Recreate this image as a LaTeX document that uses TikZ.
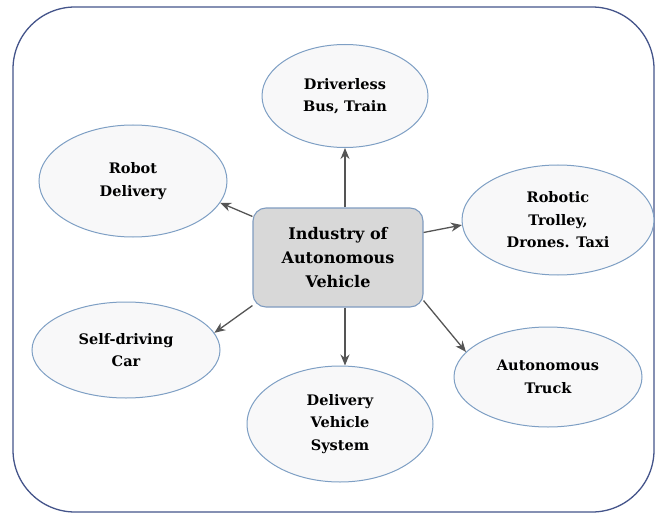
\documentclass[tikz,border=0pt]{standalone}
\usepackage{fontspec}
\setmainfont{DejaVu Serif}
\usetikzlibrary{shapes.geometric,arrows.meta}
\definecolor{framecol}{HTML}{44548A}
\definecolor{ellline}{HTML}{7E9FC4}
\definecolor{ellfill}{HTML}{F8F8F9}
\definecolor{boxfill}{HTML}{D8D8D8}
\definecolor{boxline}{HTML}{7F9CC0}
\definecolor{arrowcol}{HTML}{555555}
\begin{document}
\begin{tikzpicture}[x=1pt,y=-1pt,
  topic/.style={ellipse,draw=ellline,fill=ellfill,line width=1pt,
    inner sep=0pt,align=center,
    font=\bfseries\fontsize{14.5}{22.5}\selectfont},
  hub/.style={rectangle,rounded corners=13pt,draw=boxline,fill=boxfill,
    line width=1.1pt,minimum width=170pt,minimum height=99pt,align=center,
    font=\bfseries\fontsize{16}{24}\selectfont},
  link/.style={draw=arrowcol,line width=1.3pt,
    -{Stealth[length=11pt,width=9pt]}}]
\useasboundingbox (0,0) rectangle (655,513);
% outer frame
\draw[framecol,line width=1.3pt,rounded corners=62pt] (13,7) rectangle (654,512);

% central node
\node[hub] (hub) at (338,257.5) {Industry of\\Autonomous\\Vehicle};

% surrounding topics
\node[topic,minimum width=166pt,minimum height=103pt] (bus) at (345,96) {Driverless\\Bus, Train};
\node[topic,minimum width=188pt,minimum height=112pt] (robot) at (133,181) {Robot\\Delivery};
\node[topic,minimum width=192pt,minimum height=110pt] (trolley) at (558,220) {Robotic\\Trolley,\\Drones. Taxi};
\node[topic,minimum width=188pt,minimum height=96pt] (car) at (126,350) {Self-driving\\Car};
\node[topic,minimum width=186pt,minimum height=116pt] (dvs) at (340,424) {Delivery\\Vehicle\\System};
\node[topic,minimum width=188pt,minimum height=100pt] (truck) at (548,377) {Autonomous\\Truck};

% connectors
\coordinate (d1) at (hub.south -| bus);
\coordinate (d2) at (bus |- dvs.north);
\draw[link] (hub.north -| bus) -- (bus.south);
\draw[link] (hub.north west) ++(0,9) coordinate (a1) (a1) -- (robot.-14);
\draw[link] (hub.east) ++(0,-25) coordinate (a2) (a2) -- (trolley.183);
\draw[link] (hub.south west) ++(0,-2) coordinate (a3) (a3) -- (car.11);
\draw[link] (d1) -- (d2);
\draw[link] (hub.south east) ++(0,-7) coordinate (a4) (a4) -- (truck.163);
\end{tikzpicture}
\end{document}
